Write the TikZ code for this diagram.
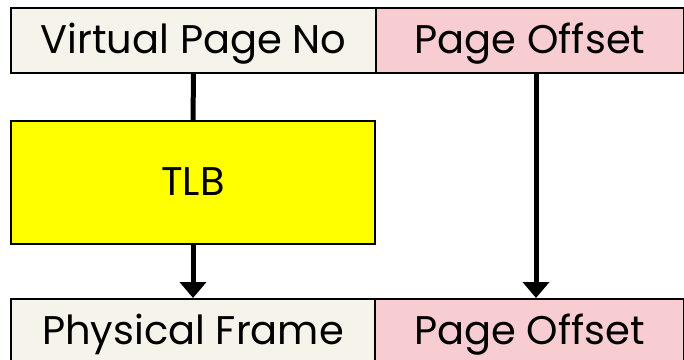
\documentclass[tikz,border=0pt]{standalone}
\usepackage{fontspec}
\setmainfont{Poppins}
\usetikzlibrary{arrows.meta}
\definecolor{cream}{HTML}{F6F4EA}
\definecolor{rosy}{HTML}{F7CDD1}
\definecolor{tlbyellow}{HTML}{FFFF00}
\tikzset{
  cell/.style={draw=black, line width=2pt, inner sep=0pt, anchor=north west,
    minimum height=65pt, font=\fontsize{40}{46}\selectfont,
    text height=25pt, text depth=0pt},
  conn/.style={line width=5pt, -{Triangle[width=26pt,length=16pt]}},
  link/.style={line width=5pt}
}
\begin{document}
\begin{tikzpicture}[x=1pt,y=-1pt]
  \useasboundingbox (0,0) rectangle (684,359);
  % virtual address fields
  \node[cell, fill=cream, minimum width=365pt] (vpn) at (10,7) {Virtual Page No};
  \node[cell, fill=rosy, minimum width=308pt] (voff) at (375,7) {Page Offset};
  % translation lookaside buffer
  \node[cell, fill=tlbyellow, minimum width=364pt, minimum height=123pt] (tlb) at (10,120) {TLB};
  % physical address fields
  \node[cell, fill=cream, minimum width=364pt] (pfn) at (10,298) {Physical Frame};
  \node[cell, fill=rosy, minimum width=309pt] (poff) at (374,298) {Page Offset};
  % connections
  \draw[link] (vpn.south) -- (tlb.north);
  \draw[conn] (tlb.south) -- (pfn.north);
  \draw[conn] ([xshift=6pt]voff.south) -- ([xshift=6pt]voff.south |- poff.north);
\end{tikzpicture}
\end{document}
